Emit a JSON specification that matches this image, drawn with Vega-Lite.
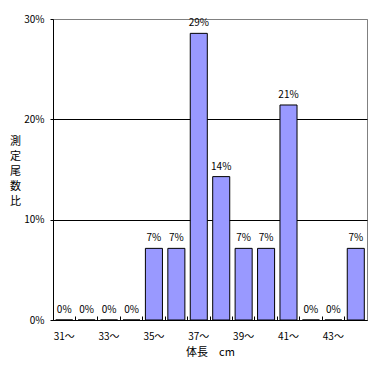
{
  "$schema": "https://vega.github.io/schema/vega-lite/v6.json",
  "width": 314,
  "height": 301,
  "autosize": {"type": "none"},
  "padding": {"left": 53, "top": 19, "right": 5, "bottom": 45},
  "background": "white",
  "config": {
    "view": {"stroke": "#808080", "strokeWidth": 1},
    "font": "Noto Sans CJK JP",
    "axis": {"labelFont": "Noto Sans CJK JP", "titleFont": "Noto Sans CJK JP", "labelColor": "black", "titleColor": "black", "labelFontSize": 10, "titleFontSize": 11, "titleFontWeight": "normal", "domainColor": "black", "tickColor": "black"}
  },
  "data": {
    "values": [
      {"len": "31〜", "ratio": 0, "label": "0%"},
      {"len": "32〜", "ratio": 0, "label": "0%"},
      {"len": "33〜", "ratio": 0, "label": "0%"},
      {"len": "34〜", "ratio": 0, "label": "0%"},
      {"len": "35〜", "ratio": 0.0714, "label": "7%"},
      {"len": "36〜", "ratio": 0.0714, "label": "7%"},
      {"len": "37〜", "ratio": 0.2857, "label": "29%"},
      {"len": "38〜", "ratio": 0.1429, "label": "14%"},
      {"len": "39〜", "ratio": 0.0714, "label": "7%"},
      {"len": "40〜", "ratio": 0.0714, "label": "7%"},
      {"len": "41〜", "ratio": 0.2143, "label": "21%"},
      {"len": "42〜", "ratio": 0, "label": "0%"},
      {"len": "43〜", "ratio": 0, "label": "0%"},
      {"len": "44〜", "ratio": 0.0714, "label": "7%"}
    ]
  },
  "encoding": {
    "x": {
      "field": "len", "type": "ordinal", "sort": null,
      "scale": {"paddingInner": 0, "paddingOuter": 0},
      "axis": {
        "title": "体長　cm",
        "labelAngle": 0,
        "bandPosition": 0,
        "labelOffset": 0,
        "labelExpr": "indexof(['31〜','33〜','35〜','37〜','39〜','41〜','43〜'], datum.value) >= 0 ? datum.value : ''",
        "tickSize": -4,
        "labelPadding": 15,
        "titleY": 32,
        "titleBaseline": "middle",
        "grid": false
      }
    },
    "y": {
      "field": "ratio", "type": "quantitative",
      "scale": {"domain": [0, 0.3], "nice": false},
      "axis": {
        "values": [0, 0.1, 0.2, 0.3],
        "format": ".0%",
        "grid": true,
        "gridColor": {"condition": {"test": "datum.value >= 0.3", "value": "#808080"}, "value": "black"},
        "gridOpacity": 1,
        "tickSize": 3,
        "labelPadding": 6,
        "title": ["測", "定", "尾", "数", "比"],
        "titleAngle": 0,
        "titleAlign": "center",
        "titleBaseline": "top",
        "titleX": -38,
        "titleY": 116,
        "titleLineHeight": 15,
        "titleFontSize": 11
      }
    }
  },
  "layer": [
    {
      "mark": {"type": "bar", "width": {"band": 0.76}, "fill": "#9999FF", "stroke": "black", "strokeWidth": 1}
    },
    {
      "mark": {"type": "text", "baseline": "bottom", "dy": -5, "fontSize": 10, "color": "black"},
      "encoding": {"text": {"field": "label"}}
    }
  ]
}
